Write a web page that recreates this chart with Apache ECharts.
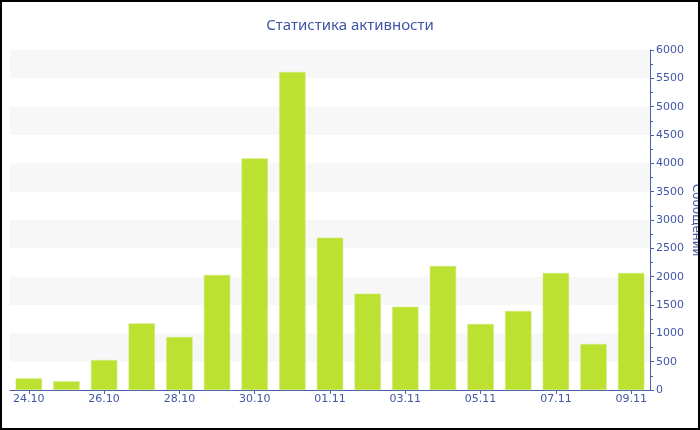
<!DOCTYPE html>
<html>
<head>
<meta charset="utf-8">
<script src="https://cdn.jsdelivr.net/npm/echarts@6/dist/echarts.min.js"></script>
<style>
html,body{margin:0;padding:0;background:#fff;}
#chart{width:700px;height:430px;}
</style>
</head>
<body>
<div id="chart"></div>
<script>
const titleText = 'Статистика активности';
const axisName = 'Сообщений';
const categories = ['24.10','25.10','26.10','27.10','28.10','29.10','30.10','31.10','01.11','02.11','03.11','04.11','05.11','06.11','07.11','08.11','09.11'];
const messages = [205,153,530,1175,935,2030,4088,5612,2688,1700,1470,2188,1165,1394,2065,812,2065];
const yTicks = {min: 0, max: 6000, interval: 500};

const textColor = '#4056a6';
const axisColor = '#4a5fa8';

const chart = echarts.init(document.getElementById('chart'), null, {renderer: 'canvas'});
chart.setOption({
  animation: false,
  backgroundColor: '#fff',
  title: {
    text: titleText,
    left: 'center',
    top: 13,
    textStyle: {color: textColor, fontSize: 15, fontWeight: 'normal', fontFamily: 'Noto Sans'}
  },
  grid: {left: 10, right: 50, top: 50, bottom: 40, containLabel: false, outerBoundsMode: 'none'},
  xAxis: {
    type: 'category',
    data: categories,
    boundaryGap: true,
    axisLine: {lineStyle: {color: axisColor, width: 1}},
    axisTick: {show: true, alignWithLabel: true, interval: 1, length: 4, lineStyle: {color: axisColor}},
    axisLabel: {interval: 1, color: textColor, fontSize: 11, fontFamily: 'DejaVu Sans', margin: 4},
    splitLine: {show: false}
  },
  yAxis: {
    type: 'value',
    position: 'right',
    min: yTicks.min,
    max: yTicks.max,
    interval: yTicks.interval,
    name: axisName,
    nameLocation: 'middle',
    nameRotate: -90,
    nameGap: 40,
    nameMoveOverlap: false,
    nameTextStyle: {color: textColor, fontSize: 12, fontFamily: 'DejaVu Sans'},
    axisLine: {show: true, lineStyle: {color: axisColor, width: 1}},
    axisTick: {show: true, length: 4, lineStyle: {color: axisColor}},
    minorTick: {show: true, splitNumber: 2, length: 3, lineStyle: {color: axisColor}},
    axisLabel: {color: textColor, fontSize: 11, fontFamily: 'DejaVu Sans', margin: 6, formatter: function (v) { return String(v); }},
    splitLine: {show: false},
    splitArea: {show: true, areaStyle: {color: ['rgba(255,255,255,0)', '#f7f7f7']}}
  },
  series: [{
    type: 'bar',
    data: messages,
    barCategoryGap: '30%',
    itemStyle: {color: '#bde130', borderColor: '#cfe97a', borderWidth: 0.6}
  }],
  graphic: [{
    type: 'rect',
    z: 100,
    shape: {x: 1, y: 1, width: 698, height: 428},
    style: {fill: 'none', stroke: '#000', lineWidth: 2}
  }]
});
</script>
</body>
</html>
